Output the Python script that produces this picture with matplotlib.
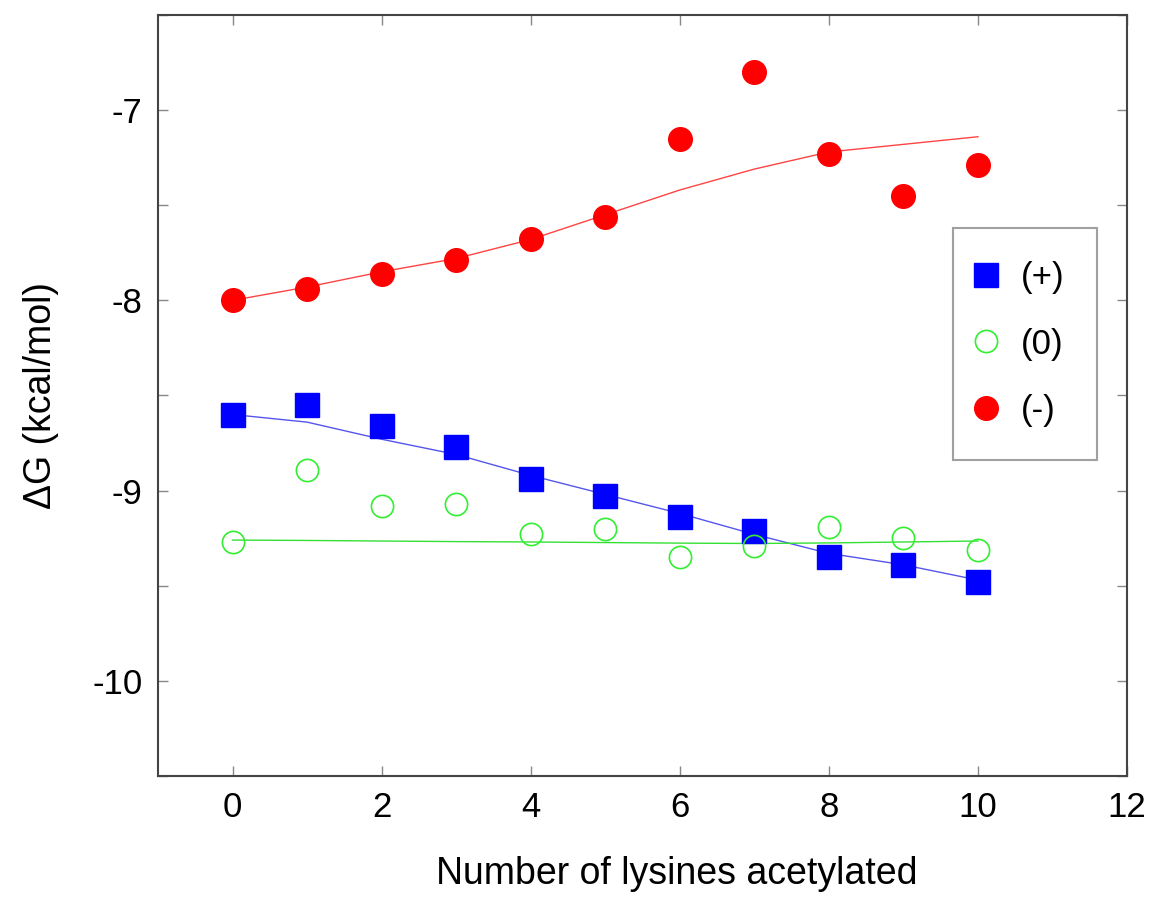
import matplotlib
matplotlib.use("Agg")
import matplotlib.pyplot as plt
import numpy as np

plt.rcParams['font.family'] = ['Liberation Sans', 'DejaVu Sans']

x = list(range(11))
plus_pts = [-8.60, -8.55, -8.66, -8.77, -8.94, -9.03, -9.14, -9.21, -9.35, -9.39, -9.48]
plus_fit = [-8.60, -8.64, -8.73, -8.81, -8.92, -9.02, -9.12, -9.23, -9.33, -9.39, -9.47]
zero_pts = [-9.27, -8.89, -9.08, -9.07, -9.23, -9.20, -9.35, -9.29, -9.19, -9.25, -9.31]
zero_fit = [-9.26, -9.262, -9.265, -9.268, -9.27, -9.273, -9.276, -9.278, -9.275, -9.27, -9.265]
minus_pts = [-8.00, -7.94, -7.86, -7.79, -7.68, -7.56, -7.15, -6.80, -7.23, -7.45, -7.29]
minus_fit = [-8.00, -7.93, -7.85, -7.78, -7.68, -7.55, -7.42, -7.31, -7.22, -7.18, -7.14]
xticks = [0, 2, 4, 6, 8, 10, 12]
yticks = [-10.5, -10, -9.5, -9, -8.5, -8, -7.5, -7, -6.5]

fig = plt.figure(figsize=(11.53, 9.02), dpi=100)
ax = fig.add_axes([0.137, 0.1397, 0.8405, 0.8437])

ax.plot(x, plus_fit, color='#5555ee', lw=1.0)
ax.plot(x, zero_fit, color='#33e033', lw=1.0)
ax.plot(x, minus_fit, color='#ff4444', lw=1.0)

ax.plot(x, plus_pts, 's', color='#0000ff', ms=17, mec='#0000ff', ls='none', label='(+)')
ax.plot(x, zero_pts, 'o', mfc='none', mec='#33ee33', mew=1.2, ms=16, ls='none', label='(0)')
ax.plot(x, minus_pts, 'o', color='#ff0000', ms=17, ls='none', label='(-)')

ax.set_xlim(-1, 12)
ax.set_ylim(-10.5, -6.5)
ax.set_xticks(xticks)
ax.set_yticks(yticks)
ax.set_yticklabels(['' if abs(v - round(v)) > 1e-6 or v in (-10.5, -6.5) else f'{int(round(v))}' for v in yticks])
ax.tick_params(direction='in', length=7, width=1, color='#888888', labelsize=25,
               top=True, right=True, pad=11)
for s in ax.spines.values():
    s.set_color('#444444')
    s.set_linewidth(1.5)

ax.set_xlabel('Number of lysines acetylated', fontsize=27, labelpad=28)
ax.xaxis.set_label_coords(0.535, -0.105)
ax.set_ylabel('ΔG (kcal/mol)', fontsize=27, labelpad=24)

leg = ax.legend(loc='upper left', bbox_to_anchor=(0.8204, 0.7201), fontsize=25,
                frameon=True, fancybox=False, edgecolor='#888888', borderpad=0.95,
                labelspacing=0.97, handletextpad=1.0, handlelength=0.0, borderaxespad=0)
leg.get_frame().set_linewidth(1.5)

fig.savefig('out.png', dpi=100)
